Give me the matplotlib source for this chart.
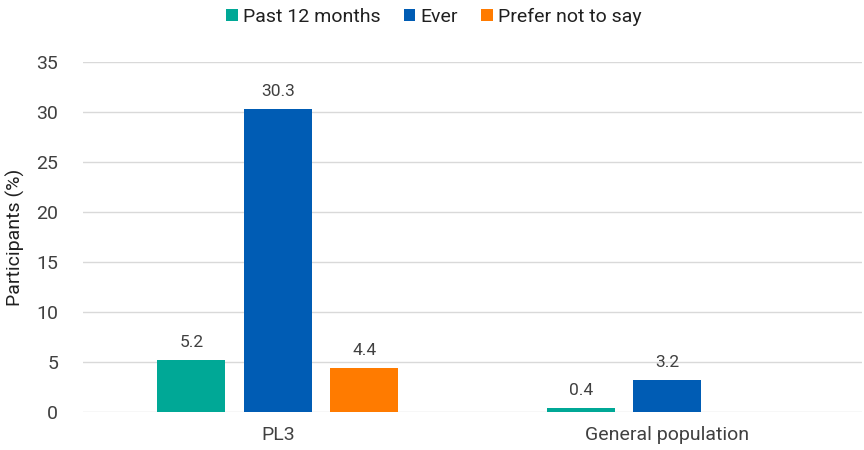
import matplotlib.pyplot as plt
import numpy as np

plt.rcParams['font.family'] = ['Roboto', 'DejaVu Sans']

# data
categories = ['PL3', 'General population']
series_names = ['Past 12 months', 'Ever', 'Prefer not to say']
past_12_months = [5.2, 0.4]
ever = [30.3, 3.2]
prefer_not = [4.4, None]

colors = ['#00a896', '#005cb4', '#ff7b00']
text_color = '#404040'

fig = plt.figure(figsize=(8.64, 4.5), dpi=100)
ax = fig.add_axes([0.0961, 0.0844, 0.9016, 0.7778])

x = np.arange(len(categories))
width = 0.175
offsets = [-0.222, 0.0, 0.222]

all_series = [past_12_months, ever, prefer_not]
for vals, off, col, name in zip(all_series, offsets, colors, series_names):
    xs = [xi + off for xi, v in zip(x, vals) if v is not None]
    ys = [v for v in vals if v is not None]
    bars = ax.bar(xs, ys, width=width, color=col, label=name, zorder=3)
    for b, v in zip(bars, ys):
        ax.annotate(f'{v:.1f}', (b.get_x() + b.get_width() / 2, v),
                    xytext=(0, 7), textcoords='offset points',
                    ha='center', va='bottom', fontsize=12.5, color=text_color)

ax.set_xlim(-0.5, 1.5)
ax.set_ylim(0, 35)
ax.set_yticks(range(0, 36, 5))
ax.set_xticks(x)
ax.set_xticklabels(categories)
ax.grid(axis='y', color='#d9d9d9', linewidth=1, zorder=0)
for s in ax.spines.values():
    s.set_visible(False)
ax.tick_params(axis='both', length=0, labelsize=14, colors=text_color)
ax.tick_params(axis='y', pad=18)
ax.tick_params(axis='x', pad=10)
ax.set_ylabel('Participants (%)', fontsize=14, color='#202020', labelpad=8)

fig.legend(loc='center', bbox_to_anchor=(0.502, 0.963), ncol=3, frameon=False,
           fontsize=14, handlelength=0.6, handleheight=0.6, handletextpad=0.25,
           columnspacing=1.2, labelcolor='#202020')

fig.savefig('out.png', dpi=100)
